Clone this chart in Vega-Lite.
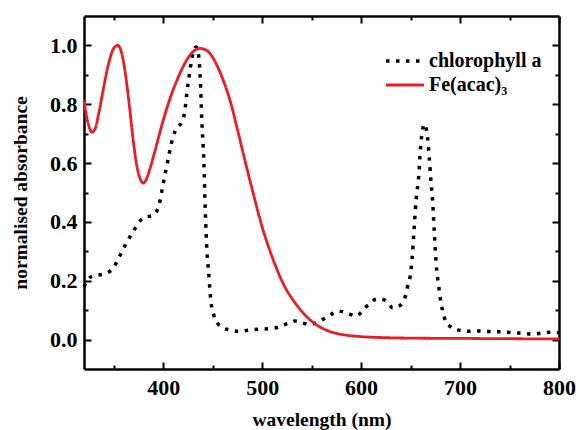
{
  "$schema": "https://vega.github.io/schema/vega-lite/v6.json",
  "width": 475,
  "height": 353,
  "autosize": {"type": "none"},
  "padding": {"left": 84, "top": 16, "right": 17, "bottom": 61},
  "background": "white",
  "config": {
    "view": {"stroke": null},
    "font": "Liberation Serif",
    "axis": {
      "labelFont": "Liberation Serif", "labelFontWeight": "bold", "labelFontSize": 22, "labelColor": "black",
      "titleFont": "Liberation Serif", "titleFontWeight": "bold", "titleFontSize": 19.5, "titleColor": "black",
      "domainColor": "black", "domainWidth": 2.5, "tickColor": "black", "tickWidth": 2, "grid": false,
      "labelFlush": false
    }
  },
  "datasets": {
    "spectra": [
      {"w": 320, "a": 0.18, "s": "chlorophyll a"},
      {"w": 324, "a": 0.205, "s": "chlorophyll a"},
      {"w": 329, "a": 0.216, "s": "chlorophyll a"},
      {"w": 339, "a": 0.222, "s": "chlorophyll a"},
      {"w": 345, "a": 0.23, "s": "chlorophyll a"},
      {"w": 349, "a": 0.24, "s": "chlorophyll a"},
      {"w": 354, "a": 0.27, "s": "chlorophyll a"},
      {"w": 360, "a": 0.31, "s": "chlorophyll a"},
      {"w": 366, "a": 0.347, "s": "chlorophyll a"},
      {"w": 372, "a": 0.38, "s": "chlorophyll a"},
      {"w": 377, "a": 0.405, "s": "chlorophyll a"},
      {"w": 381, "a": 0.415, "s": "chlorophyll a"},
      {"w": 387, "a": 0.42, "s": "chlorophyll a"},
      {"w": 391, "a": 0.426, "s": "chlorophyll a"},
      {"w": 396, "a": 0.46, "s": "chlorophyll a"},
      {"w": 400, "a": 0.53, "s": "chlorophyll a"},
      {"w": 403, "a": 0.58, "s": "chlorophyll a"},
      {"w": 406, "a": 0.63, "s": "chlorophyll a"},
      {"w": 410, "a": 0.69, "s": "chlorophyll a"},
      {"w": 414, "a": 0.72, "s": "chlorophyll a"},
      {"w": 419, "a": 0.74, "s": "chlorophyll a"},
      {"w": 422, "a": 0.78, "s": "chlorophyll a"},
      {"w": 424, "a": 0.84, "s": "chlorophyll a"},
      {"w": 426, "a": 0.89, "s": "chlorophyll a"},
      {"w": 429, "a": 0.955, "s": "chlorophyll a"},
      {"w": 431, "a": 0.985, "s": "chlorophyll a"},
      {"w": 433.5, "a": 0.995, "s": "chlorophyll a"},
      {"w": 435, "a": 0.985, "s": "chlorophyll a"},
      {"w": 436, "a": 0.96, "s": "chlorophyll a"},
      {"w": 437.5, "a": 0.886, "s": "chlorophyll a"},
      {"w": 439, "a": 0.75, "s": "chlorophyll a"},
      {"w": 441, "a": 0.614, "s": "chlorophyll a"},
      {"w": 442.6, "a": 0.433, "s": "chlorophyll a"},
      {"w": 444.3, "a": 0.296, "s": "chlorophyll a"},
      {"w": 446, "a": 0.228, "s": "chlorophyll a"},
      {"w": 447.6, "a": 0.153, "s": "chlorophyll a"},
      {"w": 449, "a": 0.11, "s": "chlorophyll a"},
      {"w": 451, "a": 0.085, "s": "chlorophyll a"},
      {"w": 453, "a": 0.065, "s": "chlorophyll a"},
      {"w": 456, "a": 0.051, "s": "chlorophyll a"},
      {"w": 460, "a": 0.04, "s": "chlorophyll a"},
      {"w": 466, "a": 0.034, "s": "chlorophyll a"},
      {"w": 476, "a": 0.028, "s": "chlorophyll a"},
      {"w": 486, "a": 0.032, "s": "chlorophyll a"},
      {"w": 496, "a": 0.035, "s": "chlorophyll a"},
      {"w": 508, "a": 0.037, "s": "chlorophyll a"},
      {"w": 516, "a": 0.042, "s": "chlorophyll a"},
      {"w": 522, "a": 0.05, "s": "chlorophyll a"},
      {"w": 528, "a": 0.057, "s": "chlorophyll a"},
      {"w": 533, "a": 0.063, "s": "chlorophyll a"},
      {"w": 537, "a": 0.062, "s": "chlorophyll a"},
      {"w": 542, "a": 0.056, "s": "chlorophyll a"},
      {"w": 548, "a": 0.051, "s": "chlorophyll a"},
      {"w": 553, "a": 0.055, "s": "chlorophyll a"},
      {"w": 558, "a": 0.062, "s": "chlorophyll a"},
      {"w": 563, "a": 0.072, "s": "chlorophyll a"},
      {"w": 567, "a": 0.08, "s": "chlorophyll a"},
      {"w": 572, "a": 0.09, "s": "chlorophyll a"},
      {"w": 577, "a": 0.097, "s": "chlorophyll a"},
      {"w": 581, "a": 0.095, "s": "chlorophyll a"},
      {"w": 585, "a": 0.091, "s": "chlorophyll a"},
      {"w": 590, "a": 0.085, "s": "chlorophyll a"},
      {"w": 595, "a": 0.08, "s": "chlorophyll a"},
      {"w": 600, "a": 0.092, "s": "chlorophyll a"},
      {"w": 604, "a": 0.108, "s": "chlorophyll a"},
      {"w": 609, "a": 0.122, "s": "chlorophyll a"},
      {"w": 614, "a": 0.136, "s": "chlorophyll a"},
      {"w": 619, "a": 0.138, "s": "chlorophyll a"},
      {"w": 624, "a": 0.134, "s": "chlorophyll a"},
      {"w": 628, "a": 0.12, "s": "chlorophyll a"},
      {"w": 632, "a": 0.108, "s": "chlorophyll a"},
      {"w": 637, "a": 0.112, "s": "chlorophyll a"},
      {"w": 642, "a": 0.125, "s": "chlorophyll a"},
      {"w": 645, "a": 0.15, "s": "chlorophyll a"},
      {"w": 647, "a": 0.18, "s": "chlorophyll a"},
      {"w": 649.6, "a": 0.216, "s": "chlorophyll a"},
      {"w": 652, "a": 0.296, "s": "chlorophyll a"},
      {"w": 654, "a": 0.398, "s": "chlorophyll a"},
      {"w": 655.6, "a": 0.477, "s": "chlorophyll a"},
      {"w": 658.3, "a": 0.557, "s": "chlorophyll a"},
      {"w": 659.7, "a": 0.636, "s": "chlorophyll a"},
      {"w": 661.7, "a": 0.705, "s": "chlorophyll a"},
      {"w": 664, "a": 0.733, "s": "chlorophyll a"},
      {"w": 667.3, "a": 0.682, "s": "chlorophyll a"},
      {"w": 669, "a": 0.614, "s": "chlorophyll a"},
      {"w": 670.7, "a": 0.534, "s": "chlorophyll a"},
      {"w": 672.4, "a": 0.466, "s": "chlorophyll a"},
      {"w": 674, "a": 0.364, "s": "chlorophyll a"},
      {"w": 675.8, "a": 0.261, "s": "chlorophyll a"},
      {"w": 678.4, "a": 0.182, "s": "chlorophyll a"},
      {"w": 680.8, "a": 0.125, "s": "chlorophyll a"},
      {"w": 683, "a": 0.09, "s": "chlorophyll a"},
      {"w": 686, "a": 0.057, "s": "chlorophyll a"},
      {"w": 690, "a": 0.045, "s": "chlorophyll a"},
      {"w": 696, "a": 0.034, "s": "chlorophyll a"},
      {"w": 703, "a": 0.03, "s": "chlorophyll a"},
      {"w": 709, "a": 0.028, "s": "chlorophyll a"},
      {"w": 718, "a": 0.029, "s": "chlorophyll a"},
      {"w": 726, "a": 0.028, "s": "chlorophyll a"},
      {"w": 739, "a": 0.027, "s": "chlorophyll a"},
      {"w": 748, "a": 0.025, "s": "chlorophyll a"},
      {"w": 756, "a": 0.023, "s": "chlorophyll a"},
      {"w": 765, "a": 0.021, "s": "chlorophyll a"},
      {"w": 773, "a": 0.019, "s": "chlorophyll a"},
      {"w": 783, "a": 0.022, "s": "chlorophyll a"},
      {"w": 793, "a": 0.025, "s": "chlorophyll a"},
      {"w": 800, "a": 0.023, "s": "chlorophyll a"},
      {"w": 320, "a": 0.813, "s": "Fe(acac)₃"},
      {"w": 322, "a": 0.77, "s": "Fe(acac)₃"},
      {"w": 325, "a": 0.725, "s": "Fe(acac)₃"},
      {"w": 328, "a": 0.705, "s": "Fe(acac)₃"},
      {"w": 331, "a": 0.715, "s": "Fe(acac)₃"},
      {"w": 335, "a": 0.77, "s": "Fe(acac)₃"},
      {"w": 340, "a": 0.86, "s": "Fe(acac)₃"},
      {"w": 345, "a": 0.94, "s": "Fe(acac)₃"},
      {"w": 350, "a": 0.99, "s": "Fe(acac)₃"},
      {"w": 354, "a": 1.0, "s": "Fe(acac)₃"},
      {"w": 358, "a": 0.975, "s": "Fe(acac)₃"},
      {"w": 362, "a": 0.9, "s": "Fe(acac)₃"},
      {"w": 366, "a": 0.79, "s": "Fe(acac)₃"},
      {"w": 370, "a": 0.67, "s": "Fe(acac)₃"},
      {"w": 374, "a": 0.58, "s": "Fe(acac)₃"},
      {"w": 377, "a": 0.545, "s": "Fe(acac)₃"},
      {"w": 380, "a": 0.532, "s": "Fe(acac)₃"},
      {"w": 383, "a": 0.545, "s": "Fe(acac)₃"},
      {"w": 387, "a": 0.585, "s": "Fe(acac)₃"},
      {"w": 392, "a": 0.645, "s": "Fe(acac)₃"},
      {"w": 400, "a": 0.745, "s": "Fe(acac)₃"},
      {"w": 408, "a": 0.83, "s": "Fe(acac)₃"},
      {"w": 415, "a": 0.89, "s": "Fe(acac)₃"},
      {"w": 422, "a": 0.94, "s": "Fe(acac)₃"},
      {"w": 430, "a": 0.978, "s": "Fe(acac)₃"},
      {"w": 437, "a": 0.99, "s": "Fe(acac)₃"},
      {"w": 443, "a": 0.985, "s": "Fe(acac)₃"},
      {"w": 450, "a": 0.96, "s": "Fe(acac)₃"},
      {"w": 456, "a": 0.92, "s": "Fe(acac)₃"},
      {"w": 462, "a": 0.87, "s": "Fe(acac)₃"},
      {"w": 468, "a": 0.808, "s": "Fe(acac)₃"},
      {"w": 475, "a": 0.715, "s": "Fe(acac)₃"},
      {"w": 484, "a": 0.59, "s": "Fe(acac)₃"},
      {"w": 490, "a": 0.51, "s": "Fe(acac)₃"},
      {"w": 496, "a": 0.432, "s": "Fe(acac)₃"},
      {"w": 501, "a": 0.372, "s": "Fe(acac)₃"},
      {"w": 507, "a": 0.31, "s": "Fe(acac)₃"},
      {"w": 512, "a": 0.264, "s": "Fe(acac)₃"},
      {"w": 518, "a": 0.214, "s": "Fe(acac)₃"},
      {"w": 524, "a": 0.173, "s": "Fe(acac)₃"},
      {"w": 531, "a": 0.136, "s": "Fe(acac)₃"},
      {"w": 538, "a": 0.104, "s": "Fe(acac)₃"},
      {"w": 545, "a": 0.078, "s": "Fe(acac)₃"},
      {"w": 555, "a": 0.05, "s": "Fe(acac)₃"},
      {"w": 565, "a": 0.032, "s": "Fe(acac)₃"},
      {"w": 575, "a": 0.021, "s": "Fe(acac)₃"},
      {"w": 585, "a": 0.015, "s": "Fe(acac)₃"},
      {"w": 600, "a": 0.01, "s": "Fe(acac)₃"},
      {"w": 620, "a": 0.007, "s": "Fe(acac)₃"},
      {"w": 650, "a": 0.005, "s": "Fe(acac)₃"},
      {"w": 700, "a": 0.004, "s": "Fe(acac)₃"},
      {"w": 750, "a": 0.003, "s": "Fe(acac)₃"},
      {"w": 800, "a": 0.002, "s": "Fe(acac)₃"}
    ]
  },
  "data": {"name": "spectra"},
  "resolve": {"axis": {"x": "independent", "y": "independent"}},
  "layer": [
    {
      "mark": {"type": "point", "opacity": 0},
      "encoding": {
        "x": {"field": "w", "type": "quantitative", "scale": {"domain": [320, 800], "nice": false, "zero": false},
              "axis": {"orient": "top", "values": [350, 450, 550, 650, 750], "labels": false, "title": null, "domain": true, "tickSize": -4}},
        "y": {"field": "a", "type": "quantitative", "scale": {"domain": [-0.1, 1.1], "nice": false, "zero": false},
              "axis": {"orient": "right", "values": [0.1, 0.3, 0.5, 0.7, 0.9], "labels": false, "title": null, "domain": true, "tickSize": -4}}
      }
    },
    {
      "mark": {"type": "point", "opacity": 0},
      "encoding": {
        "x": {"field": "w", "type": "quantitative",
              "axis": {"orient": "top", "values": [400, 500, 600, 700, 800], "labels": false, "title": null, "domain": false, "tickSize": -7}},
        "y": {"field": "a", "type": "quantitative",
              "axis": {"orient": "right", "values": [0, 0.2, 0.4, 0.6, 0.8, 1.0], "labels": false, "title": null, "domain": false, "tickSize": -7}}
      }
    },
    {
      "mark": {"type": "point", "opacity": 0},
      "encoding": {
        "x": {"field": "w", "type": "quantitative",
              "axis": {"orient": "bottom", "values": [350, 450, 550, 650, 750], "labels": false, "title": null, "domain": false, "tickSize": -4}},
        "y": {"field": "a", "type": "quantitative",
              "axis": {"orient": "left", "values": [0.1, 0.3, 0.5, 0.7, 0.9], "labels": false, "title": null, "domain": false, "tickSize": -4}}
      }
    },
    {
      "mark": {"type": "line", "interpolate": "monotone", "strokeCap": "butt"},
      "encoding": {
        "x": {"field": "w", "type": "quantitative",
              "axis": {"orient": "bottom", "values": [400, 500, 600, 700, 800], "title": "wavelength (nm)", "tickSize": -7, "labelPadding": 15, "titlePadding": 12, "labelFlush": false, "labelOverlap": false}},
        "y": {"field": "a", "type": "quantitative",
              "axis": {"orient": "left", "values": [0, 0.2, 0.4, 0.6, 0.8, 1.0], "format": ".1f", "title": "normalised absorbance", "tickSize": -7, "labelPadding": 14, "titlePadding": 19, "labelFlush": false}},
        "color": {"field": "s", "type": "nominal", "title": null,
                  "scale": {"domain": ["chlorophyll a", "Fe(acac)₃"], "range": ["black", "#ed1c24"]},
                  "legend": {"orient": "none", "legendX": 300, "legendY": 34, "padding": 0,
                             "labelFont": "Liberation Serif", "labelFontWeight": "bold", "labelFontSize": 20, "labelColor": "black",
                             "symbolType": "stroke", "symbolSize": 1444, "clipHeight": 22, "rowPadding": 2, "labelOffset": 3}},
        "strokeDash": {"field": "s", "type": "nominal", "title": null,
                       "scale": {"domain": ["chlorophyll a", "Fe(acac)₃"], "range": [[3.5, 6.5], [1, 0]]}},
        "strokeWidth": {"field": "s", "type": "nominal", "title": null,
                        "scale": {"domain": ["chlorophyll a", "Fe(acac)₃"], "range": [3.5, 2.8]}}
      }
    }
  ]
}
